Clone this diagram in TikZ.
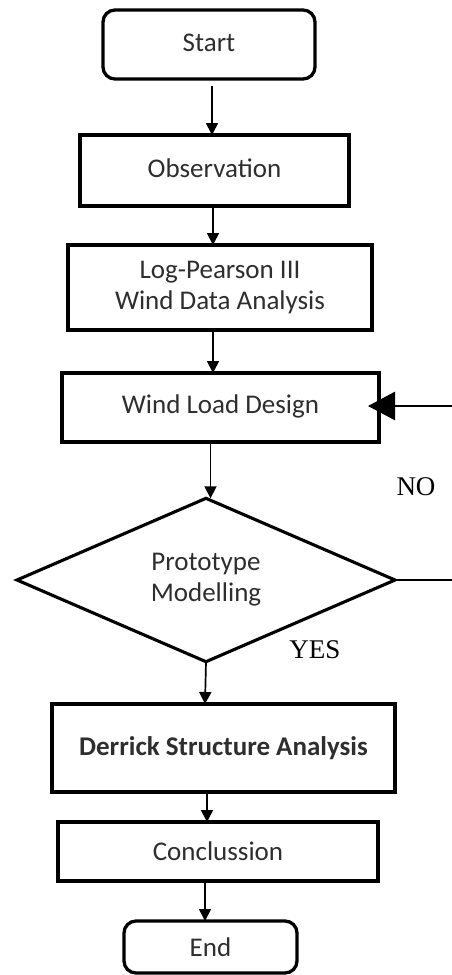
\documentclass[tikz,border=0pt]{standalone}
\usepackage{fontspec}
\setmainfont{Carlito}
\newfontfamily\seriffont{Liberation Serif}
\usetikzlibrary{shapes.geometric,arrows.meta}
\begin{document}
\begin{tikzpicture}[x=1pt,y=-1pt,
  every node/.style={inner sep=0pt,outer sep=0pt},
  boxtxt/.style={font=\fontsize{27}{31}\selectfont,text=black!82,align=center},
  procbox/.style={draw,line width=3.3pt,boxtxt},
  termbox/.style={draw,line width=3.3pt,rounded corners=12pt,boxtxt},
  decbox/.style={draw,diamond,line width=3.1pt,boxtxt},
  arr/.style={line width=1.7pt,-{Triangle[length=12pt,width=12pt]}},
  bigarr/.style={line width=2.8pt,-{Triangle[length=27pt,width=28pt]}},
  lbl/.style={font=\seriffont\fontsize{27}{30}\selectfont,text=black}
]
\useasboundingbox[fill=white] (0,0) rectangle (452,975);

\node[termbox,minimum width=212pt,minimum height=69pt] (start) at (209,44.5) {\raisebox{3pt}{Start}};
\node[procbox,minimum width=269pt,minimum height=71pt] (obs) at (214.5,170.5) {\raisebox{4pt}{Observation}};
\node[procbox,minimum width=304pt,minimum height=85pt] (lp) at (220,287.5) {Log-Pearson III\\Wind Data Analysis};
\node[procbox,minimum width=317pt,minimum height=69pt] (wld) at (220.5,407.5) {\raisebox{7pt}{Wind Load Design}};
\node[decbox,minimum width=378pt,minimum height=160pt] (dia) at (206,580) {Prototype\\Modelling};
\node[procbox,minimum width=343pt,minimum height=88pt] (der) at (223.5,748) {\bfseries Derrick Structure Analysis};
\node[procbox,minimum width=320pt,minimum height=59pt] (con) at (218,851.5) {Conclussion};
\node[termbox,minimum width=173pt,minimum height=52pt] (end) at (210.5,947) {End};

\node[lbl] (no) at (416,487) {NO};
\node[lbl] (yes) at (315,650) {YES};

\coordinate (noin) at (452,406);
\coordinate (noout) at (452,580);

\draw[arr] ([xshift=3pt,yshift=-7pt]start.south) -- ([xshift=3pt]start.south |- obs.north);
\draw[arr] ([xshift=-1.5pt]obs.south) -- ([xshift=-1.5pt]obs.south |- lp.north);
\draw[arr] ([xshift=-7pt]lp.south) -- ([xshift=-7pt]lp.south |- wld.north);
\draw[arr] ([xshift=-10pt]wld.south) -- ([xshift=-10pt]wld.south |- dia.north);
\draw[arr] (dia.south) -- ([xshift=-1pt]dia.south |- der.north);
\draw[arr] ([xshift=-16.5pt]der.south) -- ([xshift=-16.5pt]der.south |- con.north);
\draw[arr] ([xshift=-13pt]con.south) -- ([xshift=-13pt]con.south |- end.north);

\draw[line width=1.7pt] (dia.east) -- (noout);
\draw[bigarr,shorten >=-11pt] (noin) -- (wld.east |- noin);
\end{tikzpicture}
\end{document}
